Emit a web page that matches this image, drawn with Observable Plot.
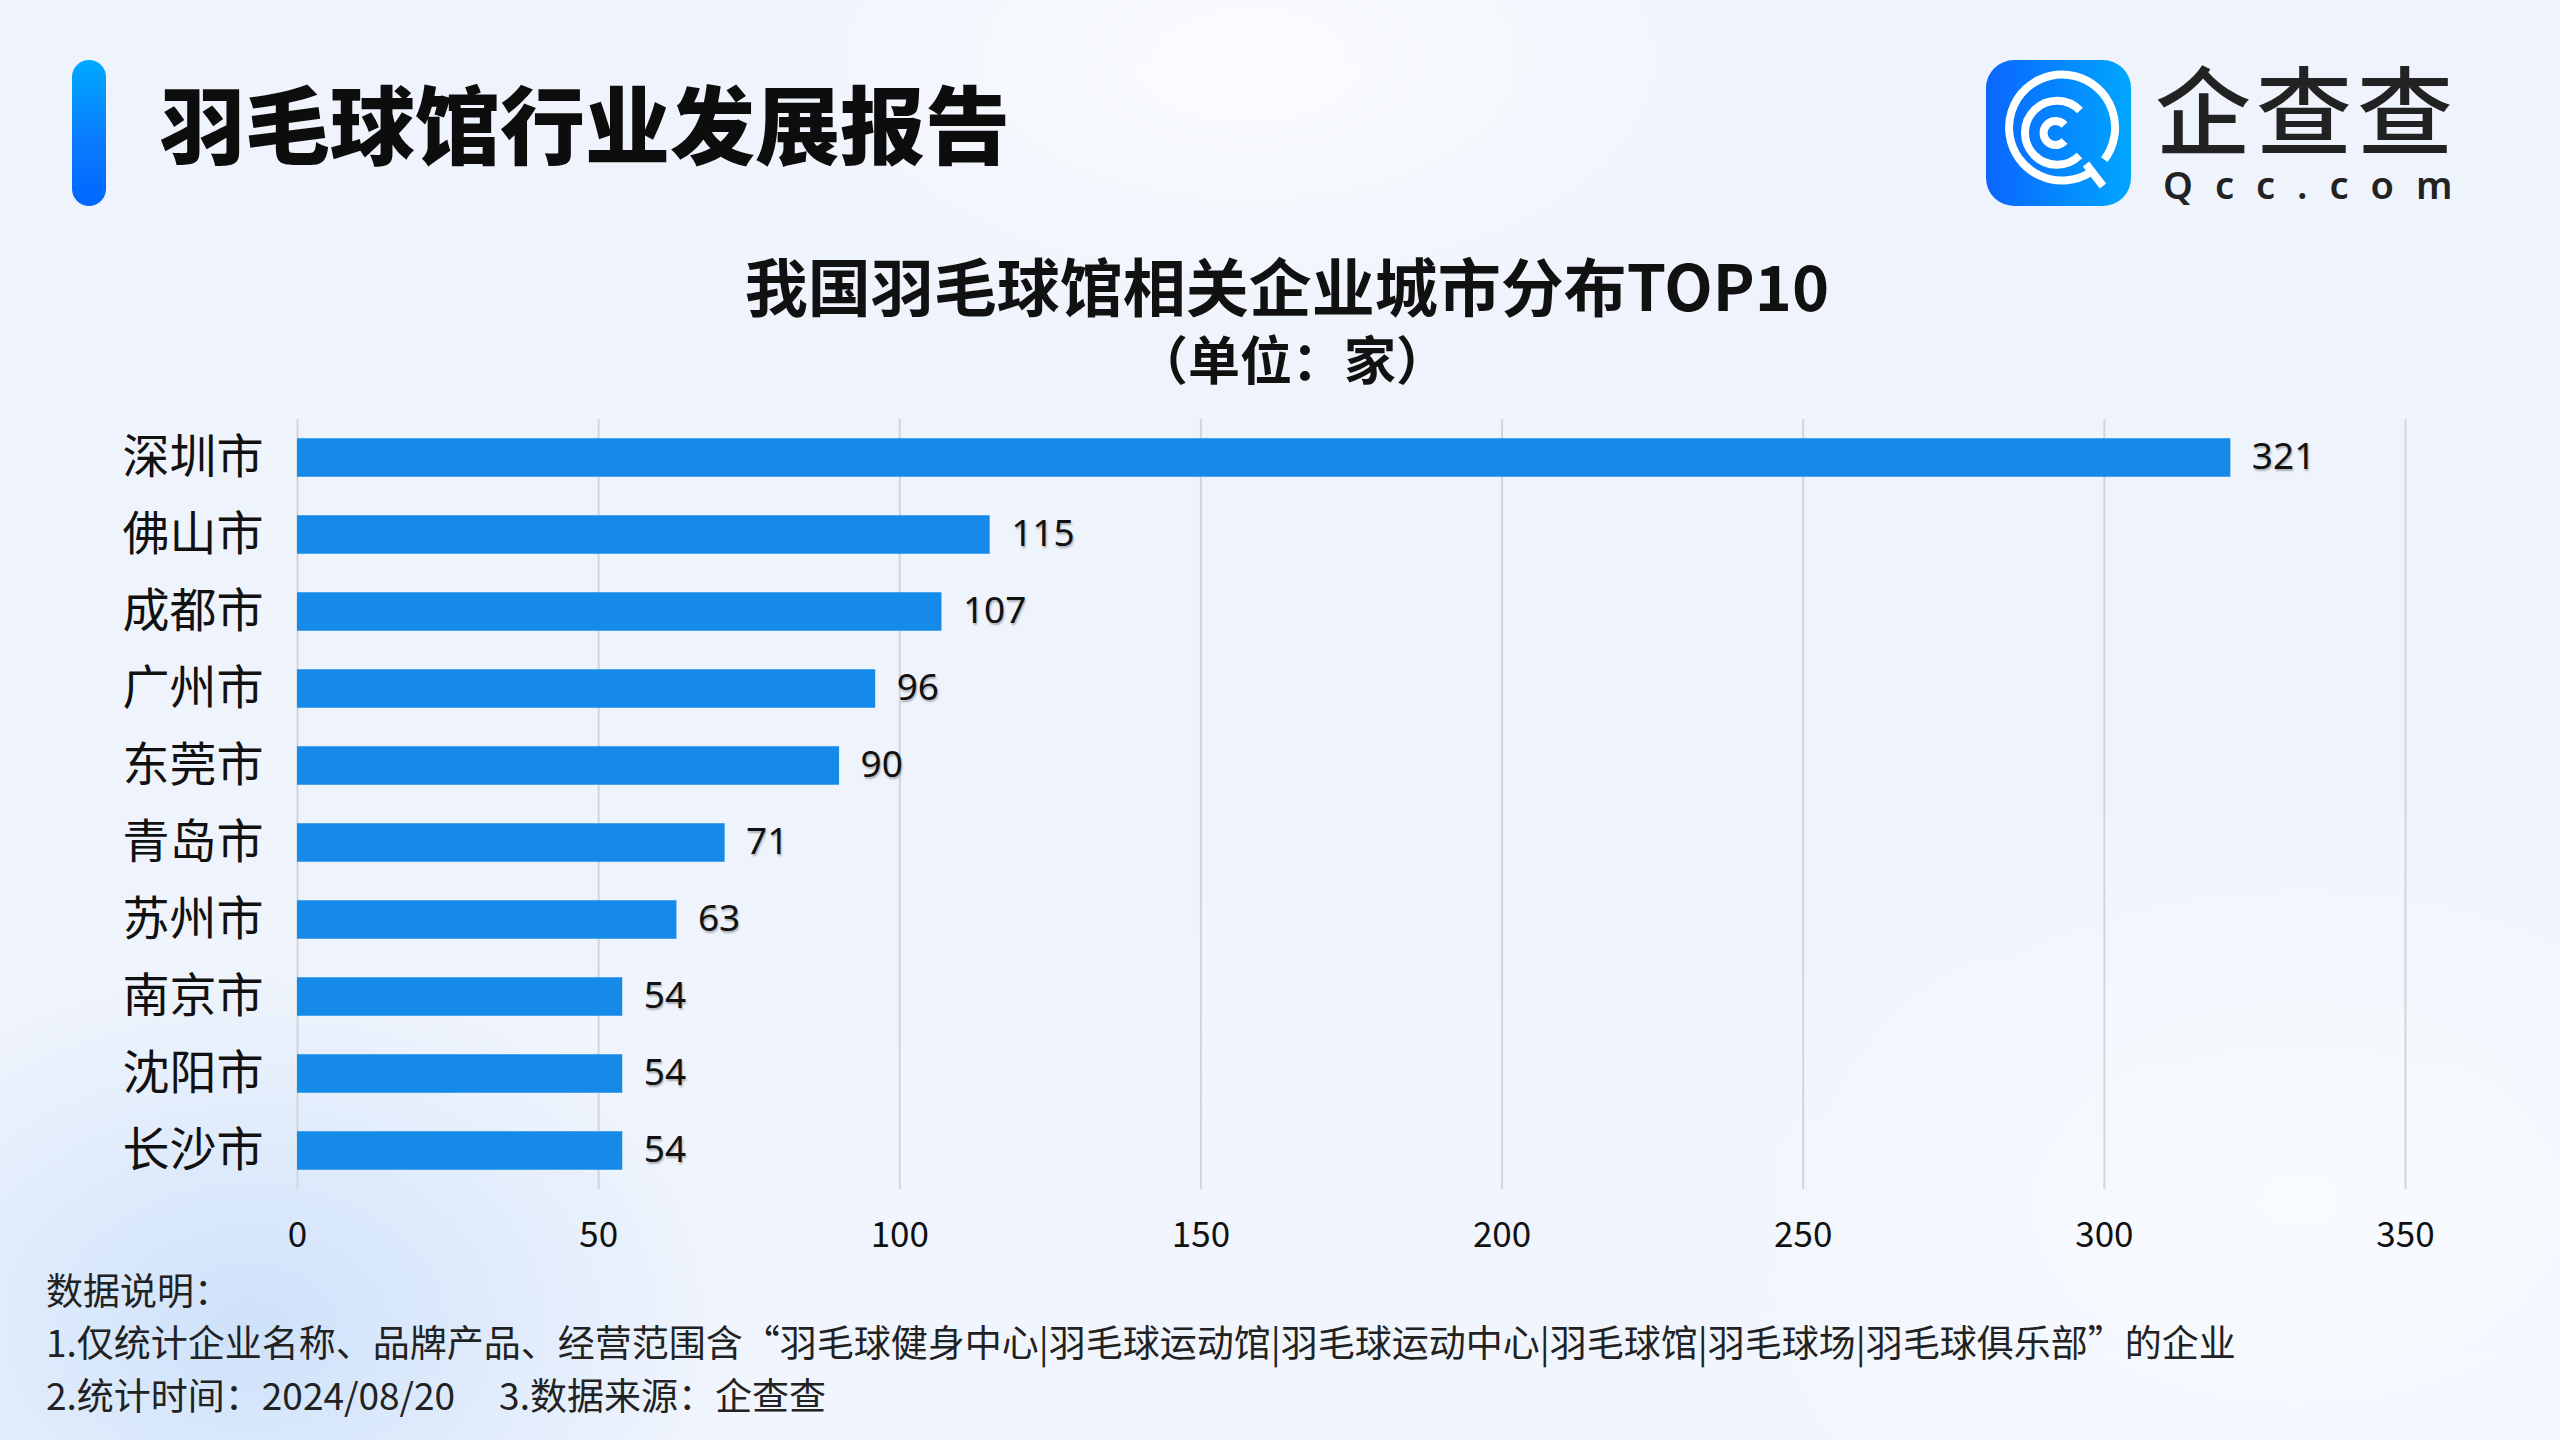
<!DOCTYPE html>
<html>
<head>
<meta charset="utf-8">
<script src="https://cdn.jsdelivr.net/npm/d3@7"></script>
<script src="https://cdn.jsdelivr.net/npm/@observablehq/plot@0.6"></script>
<style>
  html, body { margin: 0; padding: 0; }
  body {
    width: 2560px; height: 1440px; overflow: hidden; position: relative;
    font-family: "Noto Sans CJK SC", "Noto Sans", sans-serif; color: #111;
    background:
      radial-gradient(ellipse 700px 520px at 250px 1330px, rgba(200,222,250,0.85), rgba(200,222,250,0) 70%),
      radial-gradient(ellipse 800px 420px at 1250px 60px, rgba(255,255,255,0.75), rgba(255,255,255,0) 70%),
      radial-gradient(ellipse 900px 600px at 2300px 1200px, rgba(250,252,255,0.8), rgba(250,252,255,0) 70%),
      linear-gradient(180deg, #eef3fc 0%, #eff4fc 60%, #f1f5fd 100%);
  }
  .abs { position: absolute; white-space: nowrap; line-height: 1; }
  #accent { left: 72px; top: 60px; width: 34px; height: 146px; border-radius: 17px;
    background: linear-gradient(180deg, #00aaff 0%, #0a7cff 55%, #0066ff 100%); }
  #head { left: 160px; top: 78px; font-size: 85px; font-weight: 900; color: #0d0d0d; }
  #logo { left: 1986px; top: 60px; width: 145px; height: 146px; }
  #brand { left: 2155px; top: 58px; font-size: 96px; font-weight: 500; color: #222; letter-spacing: 5px; }
  #brand2 { left: 2163px; top: 165px; font-family: "Noto Sans", sans-serif; font-size: 38px; font-weight: 600; color: #222; letter-spacing: 22px; }
  #title { left: 0; width: 2574px; text-align: center; top: 252px; font-size: 63px; font-weight: 700; color: #111; }
  #subtitle { left: 0; width: 2584px; text-align: center; top: 332px; font-size: 52px; font-weight: 700; color: #111; }
  #chart { position: absolute; left: 0; top: 400px; }
  .foot { left: 46px; font-size: 37px; color: #222; }
  g[aria-label="text"] text { text-shadow: 1px 2px 2px rgba(0,0,0,0.28); }
</style>
</head>
<body>
<div id="accent" class="abs"></div>
<div id="head" class="abs">羽毛球馆行业发展报告</div>
<svg id="logo" class="abs" viewBox="0 0 145 146">
  <defs>
    <linearGradient id="lg" x1="0" y1="0" x2="1" y2="0">
      <stop offset="0" stop-color="#0a66ff"/>
      <stop offset="1" stop-color="#00a6ff"/>
    </linearGradient>
  </defs>
  <rect x="0" y="0" width="145" height="146" rx="28" fill="url(#lg)"/>
  <g fill="none" stroke="#fff" stroke-width="8">
    <path d="M 104.0 112.6 A 53 53 0 1 1 118.3 99.6"/>
    <path d="M 94.0 50.5 A 32 32 0 1 0 93.5 95.5"/>
    <path d="M 78.5 65.0 A 12 12 0 1 0 78.5 81.0"/>
    <path d="M 100 104 L 117 126"/>
  </g>
</svg>
<div id="brand" class="abs">企查查</div>
<div id="brand2" class="abs">Qcc.com</div>
<div id="title" class="abs">我国羽毛球馆相关企业城市分布TOP10</div>
<div id="subtitle" class="abs">（单位：家）</div>
<div id="chart"></div>
<div class="abs foot" style="top:1271px">数据说明：</div>
<div class="abs foot" style="top:1323px">1.仅统计企业名称、品牌产品、经营范围含“羽毛球健身中心|羽毛球运动馆|羽毛球运动中心|羽毛球馆|羽毛球场|羽毛球俱乐部”的企业</div>
<div class="abs foot" style="top:1376px">2.统计时间：2024/08/20<span style="display:inline-block;width:44px"></span>3.数据来源：企查查</div>
<script>
const cities = ["深圳市","佛山市","成都市","广州市","东莞市","青岛市","苏州市","南京市","沈阳市","长沙市"];
const values = [321,115,107,96,90,71,63,54,54,54];
const xTicks = [0,50,100,150,200,250,300,350];

const data = cities.map((c, i) => ({city: c, value: values[i]}));

const chart = Plot.plot({
  width: 2560,
  height: 859,
  marginLeft: 297,
  marginRight: 155,
  marginTop: 19,
  marginBottom: 70,
  style: {background: "transparent", color: "#111", fontFamily: "Noto Sans CJK SC", overflow: "visible"},
  x: {domain: [0, 350], ticks: xTicks},
  y: {domain: cities, paddingInner: 0.5, paddingOuter: 0.25, round: false},
  marks: [
    Plot.gridX(xTicks, {stroke: "#d2d5da", strokeOpacity: 1, strokeWidth: 2}),
    Plot.barX(data, {x: "value", y: "city", fill: "#158ae9"}),
    Plot.text(data, {x: "value", y: "city", text: d => String(d.value), textAnchor: "start", dx: 21, dy: -1,
      fontSize: 37, fill: "#111", fontFamily: "Noto Sans"}),
    Plot.axisX({ticks: xTicks, tickSize: 0, tickPadding: 33, fontSize: 35, label: null, fill: "#111"}),
    Plot.axisY({tickSize: 0, tickPadding: 34, fontSize: 47, label: null, fill: "#111"})
  ]
});
document.getElementById("chart").appendChild(chart);
</script>
</body>
</html>
